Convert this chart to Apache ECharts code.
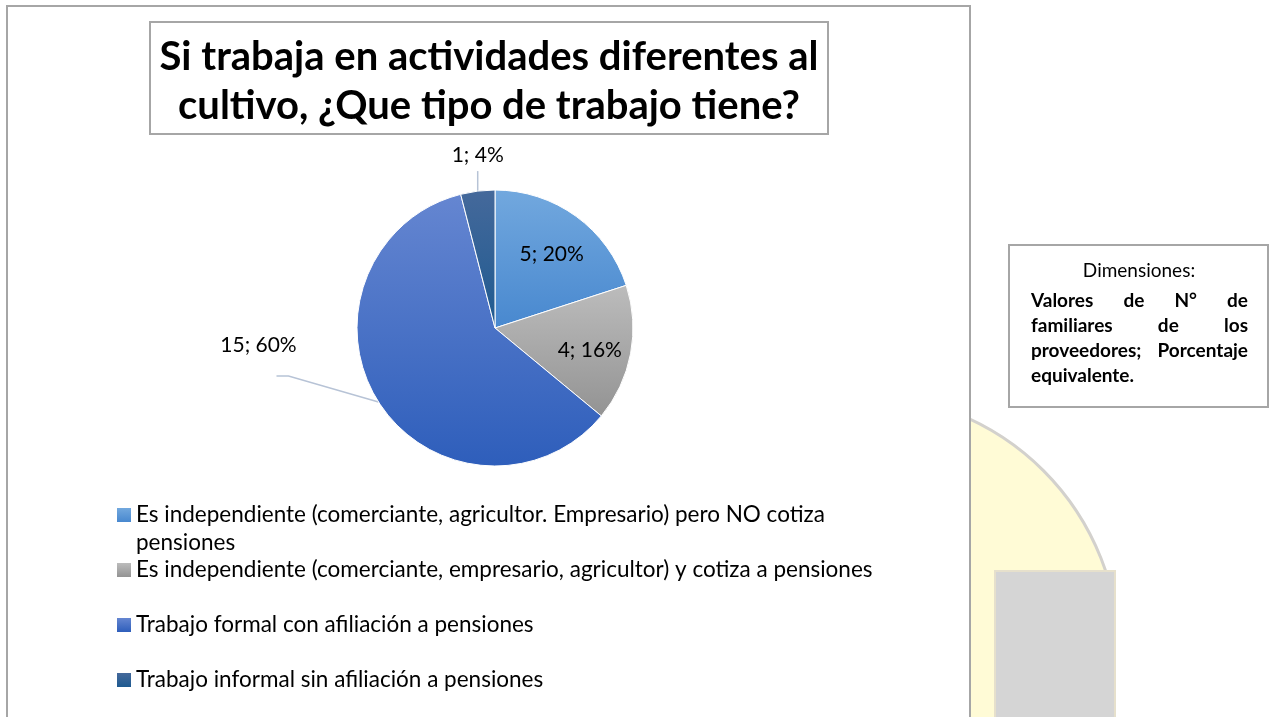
<!DOCTYPE html>
<html>
<head>
<meta charset="utf-8">
<script src="https://cdn.jsdelivr.net/npm/echarts@6/dist/echarts.min.js"></script>
<style>
html,body{margin:0;padding:0;background:#fff;}
#pie{width:1271px;height:717px;}
</style>
</head>
<body>
<div id="pie"></div>
<script>
// datos
var categorias = [
    'Es independiente (comerciante, agricultor. Empresario) pero NO cotiza pensiones',
    'Es independiente (comerciante, empresario, agricultor) y cotiza a pensiones',
    'Trabajo formal con afiliación a pensiones',
    'Trabajo informal sin afiliación a pensiones'
];
var valores = [5, 4, 15, 1];
var titulo = 'Si trabaja en actividades diferentes al\ncultivo, ¿Que tipo de trabajo tiene?';
var notaTitulo = 'Dimensiones:';
var notaLineas = [
    ['Valores', 'de', 'N°', 'de'],
    ['familiares', 'de', 'los'],
    ['proveedores;', 'Porcentaje'],
    ['equivalente.']
];

// colores (degradado arriba -> abajo)
var colores = [
    ['#72a8de', '#4888cf'],
    ['#bcbcbc', '#939393'],
    ['#6586d1', '#2e5ebb'],
    ['#45699b', '#1e5a90']
];
var fuente = 'Lato';
var cx = 495, cy = 328, R = 138;

function degradado(i) {
    return new echarts.graphic.LinearGradient(0, 0, 0, 1, [
        {offset: 0, color: colores[i][0]},
        {offset: 1, color: colores[i][1]}
    ]);
}

// texto justificado del cuadro de la derecha
var ctx = document.createElement('canvas').getContext('2d');
function justificar(lineas, x0, x1, y0, lh, font) {
    ctx.font = font;
    var out = [];
    lineas.forEach(function(pal, li) {
        var y = y0 + li * lh;
        var ultima = li === lineas.length - 1;
        var anchos = pal.map(function(w) { return ctx.measureText(w).width; });
        var total = anchos.reduce(function(a, b) { return a + b; }, 0);
        var gap = (!ultima && pal.length > 1) ? (x1 - x0 - total) / (pal.length - 1) : ctx.measureText(' ').width;
        var x = x0;
        pal.forEach(function(w, i) {
            out.push({type: 'text', x: x, y: y, z: 5,
                style: {text: w, font: font, fill: '#000', textAlign: 'left', textVerticalAlign: 'middle'}});
            x += anchos[i] + gap;
        });
    });
    return out;
}

function leyenda(i, top, ancho) {
    var ts = {fontFamily: fuente, fontSize: 22.5, color: '#000', lineHeight: 28};
    var l = {
        data: [categorias[i]], orient: 'vertical', left: 117, top: top, padding: 0,
        icon: 'rect', itemWidth: 14, itemHeight: 14, selectedMode: false,
        itemStyle: {borderWidth: 0}, textStyle: ts
    };
    if (ancho) {
        // primera linea vacia: el cuadro queda junto a la primera linea del texto
        ts.width = ancho; ts.overflow = 'break';
        l.formatter = function(name) { return '\n' + name; };
    }
    return l;
}

var myChart = echarts.init(document.getElementById('pie'));

var graficos = [
    // marca de agua del fondo
    {type: 'circle', z: 0, shape: {cx: 861, cy: 653, r: 258},
        style: {fill: '#fffbd6', stroke: '#d3d1cd', lineWidth: 3}},
    {type: 'rect', z: 1, shape: {x: 1116, y: 540, width: 200, height: 200},
        style: {fill: '#fff'}},
    {type: 'rect', z: 1, shape: {x: 995, y: 571, width: 120, height: 160},
        style: {fill: '#d5d5d5', stroke: '#e6e0cc', lineWidth: 2}},
    // marco del grafico
    {type: 'rect', z: 2, shape: {x: 7, y: 6, width: 963, height: 730},
        style: {fill: '#fff', stroke: '#a6a6a6', lineWidth: 2}},
    // cuadro del titulo
    {type: 'rect', z: 3, shape: {x: 150, y: 22, width: 678, height: 112},
        style: {fill: '#fff', stroke: '#a6a6a6', lineWidth: 2}},
    {type: 'text', z: 4, x: 489, y: 82,
        style: {text: titulo, font: 'bold 40px ' + fuente, lineHeight: 49, fill: '#000',
            textAlign: 'center', textVerticalAlign: 'middle'}},
    // cuadro de dimensiones
    {type: 'rect', z: 3, shape: {x: 1009, y: 245, width: 259, height: 162},
        style: {fill: '#fff', stroke: '#a6a6a6', lineWidth: 2}},
    {type: 'text', z: 4, x: 1139, y: 271,
        style: {text: notaTitulo, font: '19px ' + fuente, fill: '#000',
            textAlign: 'center', textVerticalAlign: 'middle'}}
].concat(justificar(notaLineas, 1031, 1248, 301, 25, 'bold 19px ' + fuente));

var option = {
    animation: false,
    graphic: {elements: graficos},
    legend: [
        leyenda(0, 473, 720),
        leyenda(1, 556),
        leyenda(2, 611),
        leyenda(3, 666)
    ],
    series: [{
        type: 'pie',
        z: 10,
        center: [cx, cy],
        radius: R,
        startAngle: 90,
        clockwise: true,
        avoidLabelOverlap: false,
        emphasis: {scale: false},
        itemStyle: {borderColor: '#fff', borderWidth: 1},
        label: {show: true, position: 'inside', formatter: '{c}; {d}%',
            fontFamily: fuente, fontSize: 21, color: '#000'},
        labelLine: {show: false, lineStyle: {color: '#b7c3d6', width: 1.5}},
        data: categorias.map(function(n, i) {
            return {
                name: n, value: valores[i],
                itemStyle: {color: degradado(i)},
                label: i >= 2 ? {position: 'outside'} : {},
                labelLine: {show: i >= 2}
            };
        }),
        labelLayout: function(p) {
            var r = p.labelRect;
            if (p.dataIndex < 2) {
                var lx = r.x + r.width / 2, ly = r.y + r.height / 2;
                return {dx: (lx - cx) * 0.34, dy: (ly - cy) * 0.34 + 4};
            }
            var p0 = p.labelLinePoints[0];
            if (p.dataIndex === 2) {
                return {
                    x: p0[0] - 120, y: p0[1] - 57, align: 'center', verticalAlign: 'middle',
                    labelLinePoints: [p0, [p0[0] - 90, p0[1] - 26], [p0[0] - 102, p0[1] - 26]]
                };
            }
            return {
                x: p0[0], y: p0[1] - 36, align: 'center', verticalAlign: 'middle',
                labelLinePoints: [p0, [p0[0], p0[1] - 10], [p0[0], p0[1] - 20]]
            };
        }
    }]
};
myChart.setOption(option);
</script>
</body>
</html>
